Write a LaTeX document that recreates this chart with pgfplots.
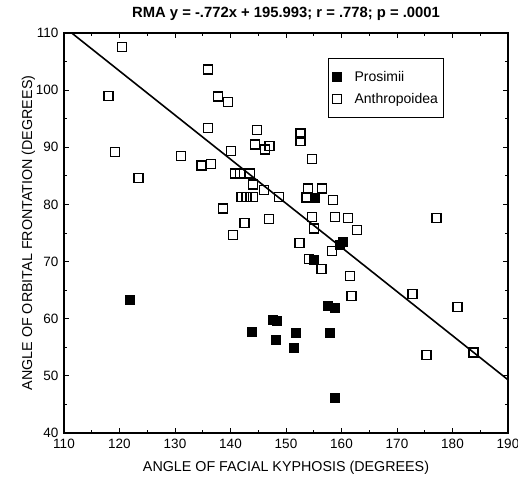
\documentclass[border=0pt]{standalone}
\usepackage{fontspec}
\setmainfont{Liberation Sans}
\usepackage{pgfplots}
\pgfplotsset{compat=1.18}

\begin{document}
\begin{tikzpicture}
\begin{axis}[
    scale only axis,
    width=444pt, height=400pt,
    xmin=110, xmax=190, ymin=40, ymax=110,
    xtick={110,120,...,190}, ytick={40,50,...,110},
    minor x tick num=1, minor y tick num=1,
    tick align=inside,
    major tick length=5pt, minor tick length=3pt,
    tick style={black, line width=0.8pt},
    axis line style={line width=1.2pt},
    font=\fontsize{14.3}{16}\selectfont,
    tick label style={font=\fontsize{13.5}{15}\selectfont},
    yticklabel style={xshift=-2pt},
    xticklabel style={yshift=-2.5pt},
    /pgf/number format/assume math mode=true,
    xlabel={ANGLE OF FACIAL KYPHOSIS (DEGREES)},
    ylabel={ANGLE OF ORBITAL FRONTATION (DEGREES)},
    xlabel style={yshift=-6pt},
    ylabel style={yshift=-6pt},
    title={\bfseries RMA y = -.772x + 195.993; r = .778; p = .0001},
    title style={yshift=3pt, font=\fontsize{14.8}{16}\selectfont},
    legend style={at={(0.595,0.9375)}, anchor=north west, draw=black,
        line width=0.8pt, inner xsep=4pt, inner ysep=11pt,
        row sep=6pt, font=\fontsize{14}{16}\selectfont,
        /tikz/every odd column/.append style={column sep=11pt}},
    legend cell align=left,
]
\addplot[only marks, mark=square*, mark size=4.5pt, black] coordinates {
(121.9,63.3) (143.9,57.7) (147.6,59.9) (148.4,59.7) (148.2,56.4)
(151.7,57.5) (151.4,54.9) (157.9,57.5) (157.6,62.3) (158.8,62.0)
(158.8,46.1) (155.0,70.4) (159.6,73.0) (160.2,73.4) (155.1,81.2)
};
\addlegendentry{Prosimii}
\addplot[only marks, mark=square, mark size=4.5pt, black, mark options={line width=1.4pt}] coordinates {
(120.4,107.6) (135.9,103.6) (118.0,99.0) (137.8,98.9) (139.5,97.9)
(135.9,93.4) (144.8,93.0) (152.6,92.4) (152.6,91.1) (144.4,90.5)
(147.0,90.2) (146.2,89.6) (140.1,89.4) (119.2,89.2) (131.1,88.5)
(154.7,87.9) (134.8,86.8) (136.5,87.1) (123.4,84.6) (140.8,85.4)
(141.7,85.4) (143.5,85.4) (144.0,83.5) (146.0,82.5) (142.0,81.3)
(142.9,81.3) (144.1,81.3) (148.7,81.3) (154.0,82.8) (156.5,82.8)
(153.7,81.2) (158.5,80.8) (138.6,79.3) (142.5,76.7) (140.4,74.6)
(146.9,77.4) (154.7,77.8) (155.0,75.8) (158.8,77.8) (161.2,77.6)
(162.8,75.5) (152.4,73.2) (158.3,71.8) (154.1,70.4) (156.4,68.7)
(161.5,67.5) (161.8,64.0) (177.1,77.6) (172.8,64.3) (180.9,62.1)
(183.8,54.1) (175.3,53.6)
};
\addlegendentry{Anthropoidea\hspace{28pt}}
\addplot[black, line width=1.6pt, forget plot] coordinates {(111.39,110) (190,49.313)};
\end{axis}
\pgfresetboundingbox
\path ([xshift=-64pt,yshift=-54pt]current axis.south west) rectangle ([xshift=10pt,yshift=33pt]current axis.north east);
\end{tikzpicture}
\end{document}
